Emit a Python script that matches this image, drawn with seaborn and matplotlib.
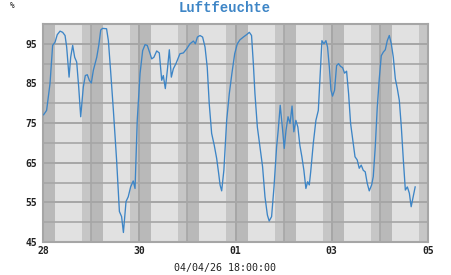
import numpy as np
import pandas as pd
import matplotlib
matplotlib.use("Agg")
import matplotlib.pyplot as plt
import matplotlib.dates as mdates
from matplotlib.ticker import MultipleLocator
import seaborn as sns

# ---- data (hours after 2026-03-28 00:00, relative humidity %) ----
hours = [0.3, 1.8, 3.5, 4.8, 6.0, 7.1, 8.5, 9.8, 11.0, 11.8, 13.0, 13.8, 14.8, 15.8,
         16.8, 17.8, 18.8, 20.1, 21.1, 22.1, 23.1, 24.1, 25.1, 26.8, 27.8, 28.8, 29.7,
         31.7, 32.6, 33.7, 35.1, 36.7, 38.1, 39.2, 40.1, 41.4, 42.5, 43.7, 45.0, 45.9,
         47.0, 48.4, 49.7, 50.9, 52.0, 53.4, 54.2, 55.3, 56.7, 58.0, 59.2, 60.0, 61.0,
         62.0, 63.0, 64.0, 65.0, 66.3, 68.3, 70.0, 71.6, 73.3, 75.0, 76.0, 77.0, 78.3,
         79.6, 80.8, 81.9, 82.9, 84.1, 85.4, 86.6, 87.6, 88.3, 89.1, 90.2, 91.6, 92.9,
         94.2, 95.6, 96.9, 98.2, 99.9, 101.5, 102.9, 104.0, 104.9, 105.7, 106.9, 108.2,
         109.5, 110.7, 111.9, 112.8, 114.0, 115.2, 116.5, 117.3, 118.3, 119.5, 120.3,
         121.2, 122.2, 123.2, 124.2, 125.1, 126.1, 127.1, 128.1, 129.1, 130.1, 131.1,
         132.0, 132.8, 133.5, 134.8, 136.1, 137.3, 138.1, 139.1, 140.1, 141.1, 141.9,
         142.8, 143.6, 144.4, 145.4, 146.4, 147.4, 148.4, 149.4, 150.4, 151.4, 152.4,
         153.4, 154.4, 155.6, 156.7, 157.7, 158.7, 159.7, 160.7, 161.7, 162.7, 163.9,
         164.7, 165.7, 166.7, 167.7, 168.7, 169.7, 170.7, 171.7, 172.7, 173.7, 174.7,
         175.7, 176.7, 177.7, 178.7, 179.7, 180.7, 181.7, 182.7, 183.6, 184.6, 185.6]
humidity = [77.1, 78.2, 85.0, 94.6, 95.4, 97.3, 98.2, 97.9, 97.1, 94.2, 86.6, 91.6, 94.6,
            91.6, 90.4, 84.1, 76.6, 84.1, 87.0, 87.2, 85.8, 85.1, 88.3, 91.6, 94.6, 98.5,
            98.9, 98.8, 95.8, 88.3, 78.2, 65.7, 52.7, 51.4, 47.4, 55.2, 56.4, 58.9, 60.4,
            58.5, 75.7, 87.5, 93.3, 94.8, 94.6, 92.5, 91.2, 91.6, 93.2, 92.7, 85.8, 87.0,
            83.7, 88.3, 93.5, 86.6, 88.7, 90.0, 92.5, 92.7, 93.7, 95.0, 95.7, 95.0, 96.7,
            97.1, 96.7, 94.2, 89.1, 79.9, 72.4, 69.4, 66.1, 62.3, 59.4, 57.9, 63.1, 75.7,
            82.4, 87.5, 92.5, 95.0, 96.0, 96.7, 97.3, 97.9, 97.1, 90.0, 82.4, 74.0, 69.0,
            64.0, 56.4, 51.8, 50.3, 51.4, 58.9, 69.0, 73.2, 79.5, 73.2, 68.6, 73.2, 76.6,
            74.9, 79.3, 72.8, 75.7, 74.0, 69.4, 66.5, 63.1, 58.5, 60.2, 59.4, 62.7, 69.9,
            75.7, 78.2, 85.8, 95.8, 95.0, 95.8, 94.2, 89.1, 83.3, 81.8, 83.3, 89.5, 90.0,
            89.3, 89.0, 87.6, 88.1, 82.4, 74.9, 71.1, 66.5, 65.7, 63.6, 64.4, 63.1, 62.7,
            59.8, 57.9, 59.4, 61.5, 69.0, 79.0, 86.2, 92.0, 92.9, 93.5, 95.8, 97.1, 95.0,
            91.6, 86.2, 83.7, 80.7, 74.0, 65.7, 58.1, 58.9, 57.3, 53.9, 56.4, 58.9]
ytick_values = [45, 55, 65, 75, 85, 95]
xtick_labels = ["28", "30", "01", "03", "05"]
title = "Luftfeuchte"
unit = "%"
stamp = "04/04/26 18:00:00"

start = pd.Timestamp("2026-03-28")
df = pd.DataFrame({"time": start + pd.to_timedelta(hours, unit="h"), "rh": humidity})

W, H = 451, 275
fig = plt.figure(figsize=(W / 100, H / 100), dpi=100)
ax = fig.add_axes([43 / W, 1 - 242 / H, (428 - 43) / W, (242 - 24) / H])

ax.set_facecolor("#e1e1e1")
# night shading
for d in range(-1, 9):
    day = start + pd.Timedelta(days=d)
    ax.axvspan(day, day + pd.Timedelta(hours=6.0), color="#b9b9b9", lw=0, zorder=0)
    ax.axvspan(day + pd.Timedelta(hours=19.5), day + pd.Timedelta(hours=24), color="#c6c6c6", lw=0, zorder=0)

sns.lineplot(data=df, x="time", y="rh", ax=ax, color="#3d85c6", lw=0.95, zorder=3)

ax.set_xlim(start, start + pd.Timedelta(days=8))
ax.set_ylim(45, 100)

major_dates = [start + pd.Timedelta(days=2 * i) for i in range(len(xtick_labels))]
ax.set_xticks(mdates.date2num(major_dates))
ax.set_xticklabels(xtick_labels)
ax.xaxis.set_minor_locator(mdates.DayLocator(interval=1))
ax.xaxis.remove_overlapping_locs = False

ax.set_yticks(ytick_values)
ax.set_yticklabels([str(v) for v in ytick_values])
ax.yaxis.set_minor_locator(MultipleLocator(5))
ax.yaxis.remove_overlapping_locs = False

ax.grid(True, which="both", color="#a6a6a6", lw=1.2, zorder=1)
ax.set_axisbelow(True)
for lbl in ax.get_xticklabels() + ax.get_yticklabels():
    lbl.set_fontfamily("DejaVu Sans Mono")
    lbl.set_fontweight("bold")
    lbl.set_fontsize(7)
    lbl.set_color("#222222")
ax.tick_params(which="both", length=0)
ax.tick_params(axis="x", pad=3)
ax.tick_params(axis="y", pad=4)
ax.set_xlabel("")
ax.set_ylabel("")
for s in ax.spines.values():
    s.set_color("#a6a6a6")
    s.set_linewidth(1.5)

fig.text(225 / W, 1 - 8 / H, title, ha="center", va="center", color="#3d85c6",
         fontfamily="Liberation Mono", fontweight="bold", fontsize=10)
fig.text(12 / W, 1 - 6 / H, unit, ha="center", va="center", color="#222222",
         fontfamily="DejaVu Sans Mono", fontsize=5.5)
fig.text(225 / W, 1 - 268 / H, stamp, ha="center", va="center", color="#222222",
         fontfamily="DejaVu Sans Mono", fontsize=7.2)

fig.savefig("out.png", dpi=100)
